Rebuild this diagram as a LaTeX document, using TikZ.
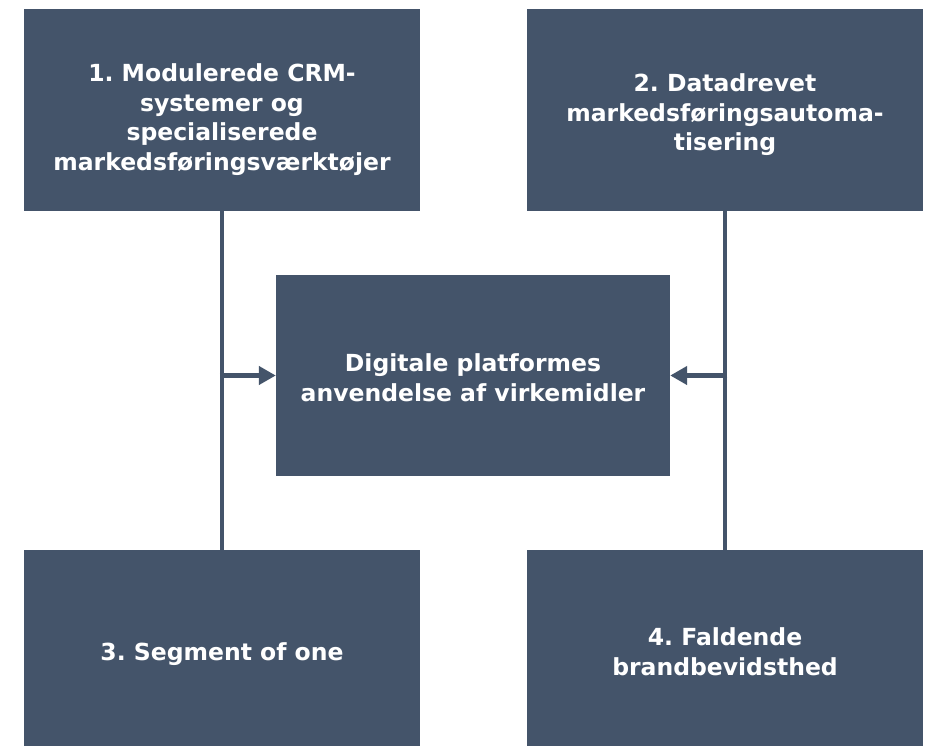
\documentclass[tikz,border=0pt]{standalone}
\usepackage{fontspec}
\setmainfont{DejaVu Sans}
\usetikzlibrary{arrows.meta}
\definecolor{boxblue}{HTML}{44546A}
\begin{document}
\frenchspacing
\begin{tikzpicture}[x=1pt,y=-1pt,
  box/.style={draw=none,fill=boxblue,inner sep=0pt},
  lbl/.style={text=white,font=\bfseries\fontsize{23.5}{29.5}\selectfont,align=center,inner sep=0pt},
  conn/.style={draw=boxblue,line width=4.5pt},
  arr/.style={conn,-{Triangle[length=17pt,width=18pt]}}]
\useasboundingbox (0,0) rectangle (928,746);
\fill[white] (0,0) rectangle (928,746);
% boxes
\node[box,minimum width=396pt,minimum height=202pt] (b1) at (222,110) {};
\node[box,minimum width=396pt,minimum height=202pt] (b2) at (725,110) {};
\node[box,minimum width=394pt,minimum height=201pt] (c) at (473,375.5) {};
\node[box,minimum width=396pt,minimum height=197pt] (b3) at (222,648.5) {};
\node[box,minimum width=396pt,minimum height=197pt] (b4) at (725,648.5) {};
% texts
\node[lbl] (t1) at ([yshift=-9.5pt]b1.center) {1. Modulerede CRM-\\systemer og\\specialiserede\\markedsføringsværktøjer};
\node[lbl] (t2) at ([yshift=-5pt]b2.center) {2. Datadrevet\\markedsføringsautoma-\\tisering};
\node[lbl] (tc) at ([yshift=-2pt]c.center) {Digitale platformes\\anvendelse af virkemidler};
\node[lbl] (t3) at ([yshift=-6pt]b3.center) {3. Segment of one};
\node[lbl] (t4) at ([yshift=-3pt]b4.center) {4. Faldende\\brandbevidsthed};
% connectors
\draw[conn] (b1.south) -- (b3.north);
\draw[conn] (b2.south) -- (b4.north);
\coordinate (jl) at (b1.south |- c.west);
\coordinate (jr) at (b2.south |- c.east);
\draw[arr] ([xshift=-2.25pt]jl) -- (c.west);
\draw[arr] ([xshift=2.25pt]jr) -- (c.east);
\end{tikzpicture}
\end{document}
